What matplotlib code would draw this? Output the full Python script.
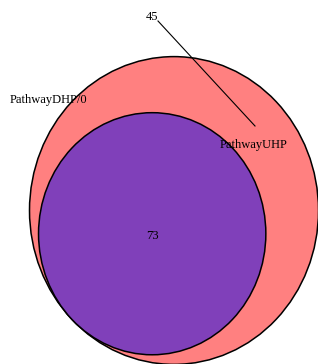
import numpy as np
import matplotlib
matplotlib.use("Agg")
import matplotlib.pyplot as plt
from matplotlib.patches import Circle

# venn counts
set_names = ["PathwayUHP", "PathwayDHP/0"]
only_uhp = 45
overlap = 73
only_dhp = 0

W, H = 318, 364
STRETCH = 1.065  # plot is a bit taller than wide

plt.rcParams['font.family'] = ['Liberation Serif', 'DejaVu Serif']

fig = plt.figure(figsize=(W / 100.0, H / 100.0), dpi=100)
ax = fig.add_axes([0, 0, 1, 1])
ax.set_xlim(0, W)
ax.set_ylim(H / STRETCH, 0)
ax.axis('off')

def py(y):
    return y / STRETCH

# radii from areas
r_big = 144.5
r_small = r_big * np.sqrt((overlap + only_dhp) / float(only_uhp + overlap))
cx, cy = 174, py(210.5)
d = r_big - r_small
sx, sy = cx - d * np.cos(np.pi / 4), cy + d * np.sin(np.pi / 4)

ax.add_patch(Circle((cx, cy), r_big, facecolor='#FF8080', edgecolor='black', lw=1.1))
ax.add_patch(Circle((sx, sy), r_small, facecolor='#8040BA', edgecolor='black', lw=1.1))

fs = 9
ax.text(sx, sy + py(2), str(overlap), ha='center', va='center', fontsize=fs)
ax.text(152, py(17), str(only_uhp), ha='center', va='center', fontsize=fs)
ax.plot([158, 255], [py(21), py(126)], color='black', lw=0.8)
ax.text(254, py(145), set_names[0], ha='center', va='center', fontsize=fs)
ax.text(10, py(100), set_names[1], ha='left', va='center', fontsize=fs)

fig.savefig('out.png', dpi=100)
